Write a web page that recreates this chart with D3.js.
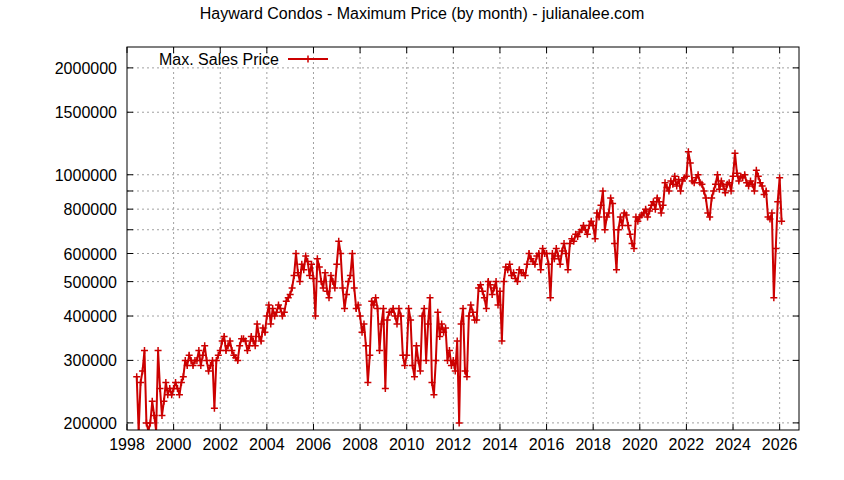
<!DOCTYPE html>
<html><head><meta charset="utf-8">
<script src="https://cdn.jsdelivr.net/npm/d3@7"></script>
<style>body{margin:0;background:#fff}text{font-family:"Liberation Sans",Arial,sans-serif}</style>
</head><body><svg id="c" width="844" height="480"></svg>
<script>
const startYear = 1998, startMonth = 5; // June 1998 (0-based month)
const prices1998 = [270,190,260,280,320,200,190];
const prices1999 = [200,230,210,190,320,250,210,230,260,240,250,240];
const prices2000 = [250,260,250,240,260,270,300,290,310,300,290,300];
const prices2001 = [300,320,290,310,330,300,280,290,300,220,300,310];
const prices2002 = [320,340,350,320,330,340,320,310,305,300,330,345];
const prices2003 = [345,340,320,330,350,340,330,380,350,340,370,360];
const prices2004 = [400,430,380,420,400,410,430,420,400,410,440,450];
const prices2005 = [460,480,520,600,530,500,560,540,590,570,520,560];
const prices2006 = [510,400,580,550,500,480,530,470,450,520,500,480];
const prices2007 = [560,650,600,480,420,460,500,520,600,480,420,430];
const prices2008 = [400,360,380,330,260,310,440,430,450,420,320,380];
const prices2009 = [420,250,390,410,410,420,400,380,420,400,310,290];
const prices2010 = [310,420,390,290,270,330,300,280,400,420,300,380];
const prices2011 = [450,260,240,300,410,350,380,360,370,300,320,290];
const prices2012 = [300,280,340,200,380,420,280,270,400,430,410,390];
const prices2013 = [390,480,490,470,450,420,500,490,460,480,500,430];
const prices2014 = [470,340,500,550,540,560,520,530,510,500,540,530];
const prices2015 = [530,520,560,600,580,570,560,590,600,540,620,600];
const prices2016 = [600,560,450,600,580,620,590,560,610,640,600,540];
const prices2017 = [640,660,650,680,670,690,700,720,700,680,720,740];
const prices2018 = [720,660,780,760,820,900,700,760,780,860,830,640];
const prices2019 = [540,700,760,720,780,770,720,680,640,620,760,740];
const prices2020 = [760,770,780,800,760,790,820,840,800,860,840,780];
const prices2021 = [820,950,920,900,960,940,990,930,970,900,960,980];
const prices2022 = [990,1160,1080,960,950,980,1000,950,940,900,860,780];
const prices2023 = [760,860,900,940,1000,910,960,930,890,940,950,900];
const prices2024 = [990,1150,1010,960,990,980,1000,950,930,960,940,900];
const prices2025 = [1030,990,950,930,880,900,760,750,780,450,620,840];
const prices2026 = [980,740];
const yTickValues = [200000,300000,400000,500000,600000,700000,800000,900000,1000000,1500000,2000000];
const yTickLabels = ["200000","300000","400000","500000","600000","","800000","","1000000","1500000","2000000"];
const xTickYears = d3.range(1998,2027,2);

const all = [].concat(prices1998,prices1999,prices2000,prices2001,prices2002,prices2003,prices2004,prices2005,prices2006,prices2007,prices2008,prices2009,prices2010,prices2011,prices2012,prices2013,prices2014,prices2015,prices2016,prices2017,prices2018,prices2019,prices2020,prices2021,prices2022,prices2023,prices2024,prices2025,prices2026);
const data = all.map((v,i)=>({t: startYear + (startMonth+i)/12, v: v*1000}));

const svg = d3.select("#c");
const L=127,R=799,T=47,B=430;
const x = d3.scaleLinear().domain([1998,2026.83]).range([L,R]);
const y = d3.scaleLog().domain([191000,2290000]).range([B,T]);
const red="#cc0000";
const fs=16;

const g = svg.append("g");
xTickYears.forEach(yr=>{ if(yr>1998) g.append("line").attr("x1",x(yr)).attr("x2",x(yr)).attr("y1",T).attr("y2",B).attr("stroke","#a0a0a0").attr("stroke-dasharray","2,3"); });
yTickValues.forEach(v=>g.append("line").attr("x1",L).attr("x2",R).attr("y1",y(v)).attr("y2",y(v)).attr("stroke","#a0a0a0").attr("stroke-dasharray","2,3"));

svg.append("clipPath").attr("id","cp").append("rect").attr("x",L).attr("y",T).attr("width",R-L).attr("height",B-T);
const pg = svg.append("g").attr("clip-path","url(#cp)");
pg.append("path").datum(data).attr("fill","none").attr("stroke",red).attr("stroke-width",2)
  .attr("d",d3.line().x(d=>x(d.t)).y(d=>y(d.v)));
pg.selectAll(".p").data(data).enter().append("path").attr("stroke",red).attr("stroke-width",1.5)
  .attr("d",d=>{const px=x(d.t),py=y(d.v);return `M${px-3.5},${py}H${px+3.5}M${px},${py-3.5}V${py+3.5}`;});

svg.append("rect").attr("x",L).attr("y",T).attr("width",R-L).attr("height",B-T).attr("fill","none").attr("stroke","#000");
const ax = svg.append("g");
xTickYears.forEach(yr=>{
  ax.append("line").attr("x1",x(yr)).attr("x2",x(yr)).attr("y1",B).attr("y2",B-6).attr("stroke","#000");
  ax.append("line").attr("x1",x(yr)).attr("x2",x(yr)).attr("y1",T).attr("y2",T+6).attr("stroke","#000");
  ax.append("text").attr("x",x(yr)).attr("y",B+20).attr("text-anchor","middle").attr("font-size",fs).text(yr);
});
yTickValues.forEach((v,i)=>{
  ax.append("line").attr("x1",L).attr("x2",L+6).attr("y1",y(v)).attr("y2",y(v)).attr("stroke","#000");
  ax.append("line").attr("x1",R).attr("x2",R-6).attr("y1",y(v)).attr("y2",y(v)).attr("stroke","#000");
  if(yTickLabels[i]) ax.append("text").attr("x",L-10).attr("y",y(v)+6).attr("text-anchor","end").attr("font-size",fs).text(yTickLabels[i]);
});
svg.append("text").attr("x",422).attr("y",19).attr("text-anchor","middle").attr("font-size",fs).text("Hayward Condos - Maximum Price (by month) - julianalee.com");
svg.append("text").attr("x",279).attr("y",65).attr("text-anchor","end").attr("font-size",fs).text("Max. Sales Price");
svg.append("line").attr("x1",288).attr("x2",328).attr("y1",59).attr("y2",59).attr("stroke",red).attr("stroke-width",2);
svg.append("path").attr("stroke",red).attr("stroke-width",1.5).attr("d","M304.5,59H311.5M308,55.5V62.5");
</script></body></html>
